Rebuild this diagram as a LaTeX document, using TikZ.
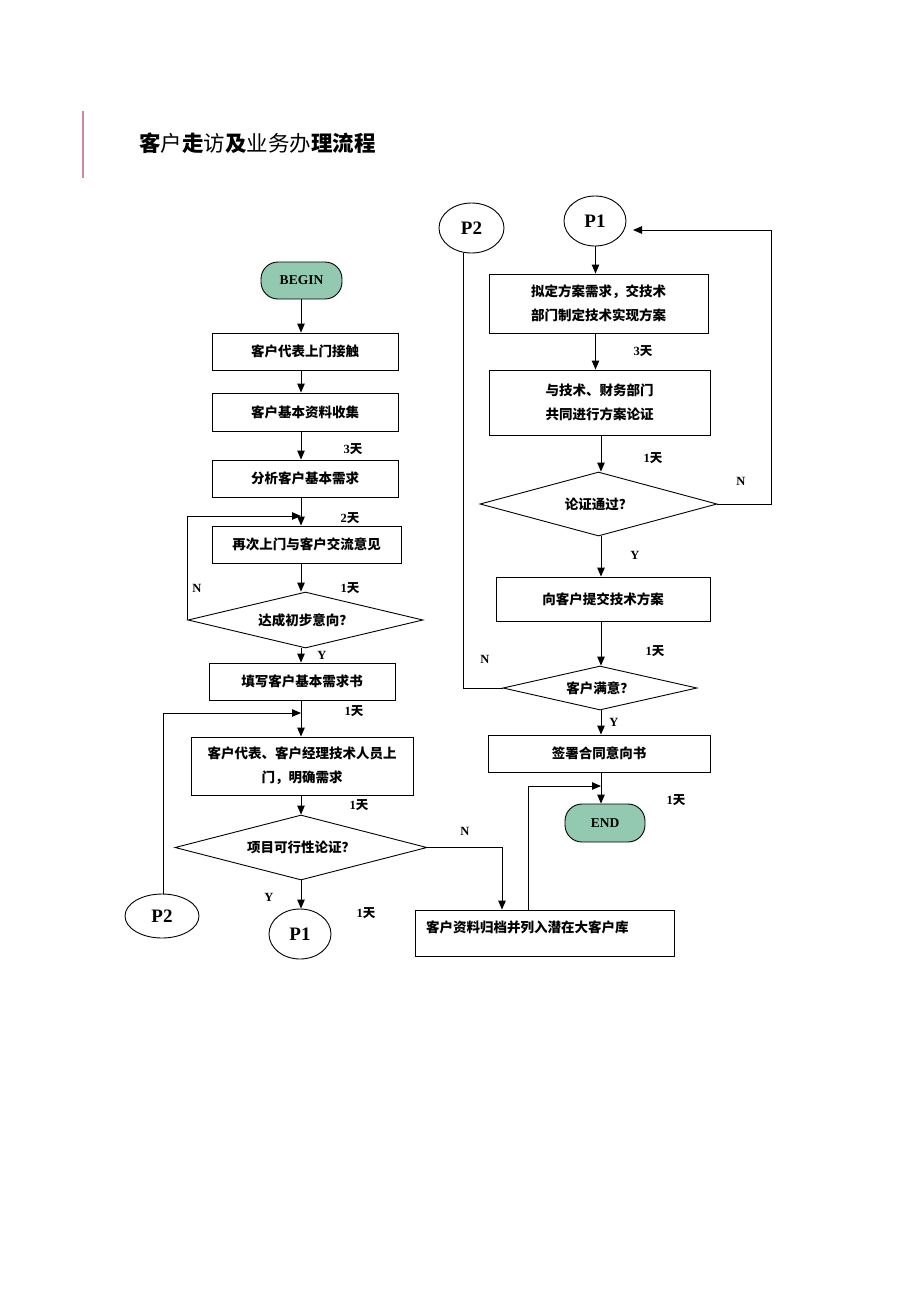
\documentclass[tikz,border=0pt]{standalone}
\usepackage{fontspec}
\newfontfamily\cjk{Noto Sans CJK SC}
\newfontfamily\tms{Liberation Serif}
\usetikzlibrary{shapes.geometric,arrows.meta}
\definecolor{tgreen}{HTML}{92C9B0}
\definecolor{tpink}{HTML}{C98AA5}
\newcommand\dl[1]{{\tms\bfseries #1}{\cjk\bfseries 天}}
\begin{document}
\begin{tikzpicture}[x=1pt,y=-1pt,
 box/.style={draw, line width=0.9pt, inner sep=0pt, font=\cjk\bfseries\fontsize{13.5}{24}\selectfont, align=center},
 term/.style={draw, line width=0.9pt, fill=tgreen, rounded corners=17pt, inner sep=0pt, font=\tms\bfseries\fontsize{13.5}{15}\selectfont},
 dec/.style={diamond, draw, line width=0.9pt, inner sep=0pt, font=\cjk\bfseries\fontsize{13.5}{16}\selectfont},
 conn/.style={ellipse, draw, line width=0.9pt, inner sep=0pt, font=\tms\bfseries\fontsize{19}{22}\selectfont},
 arr/.style={-{Triangle[length=9pt,width=7.5pt]}, line width=0.9pt},
 ln/.style={line width=0.9pt},
 lab/.style={font=\tms\bfseries\fontsize{12.5}{14}\selectfont, inner sep=0pt},
 ]
\useasboundingbox (0,0) rectangle (920,1302);
% title
\draw[tpink, line width=1.3pt] (83,111) -- (83,178);
\node[anchor=west, inner sep=0pt, font=\cjk\fontsize{21.5}{24}\selectfont] (title) at (139,143) {{\bfseries 客}户{\bfseries 走}访{\bfseries 及}业务办{\bfseries 理流程}};

% left column
\node[term, minimum width=81, minimum height=37] (begin) at (301.5,280.5) {BEGIN};
\node[box, minimum width=186, minimum height=37] (b1) at (305,351.5) {客户代表上门接触};
\node[box, minimum width=186, minimum height=38] (b2) at (305,412) {客户基本资料收集};
\node[box, minimum width=186, minimum height=37] (b3) at (305,478.5) {分析客户基本需求};
\node[box, minimum width=189, minimum height=37] (b4) at (306.5,544.5) {再次上门与客户交流意见};
\node[dec, aspect=4.2, minimum width=235, minimum height=56] (d1) at (305.5,620) {达成初步意向？};
\node[box, minimum width=186, minimum height=37] (b5) at (302,681.5) {填写客户基本需求书};
\node[box, minimum width=222, minimum height=58] (b6) at (302,766) {客户代表、客户经理技术人员上\\门，明确需求};
\node[dec, aspect=3.88, minimum width=252, minimum height=65] (d2) at (301,847.5) {项目可行性论证？};
\node[conn, minimum width=62, minimum height=50] (p1l) at (300,934) {P1};
\node[conn, minimum width=74, minimum height=44] (p2l) at (162,916) {P2};
\node[box, minimum width=259, minimum height=46] (b7) at (544.5,933) {};
\node[anchor=west, inner sep=0pt, font=\cjk\bfseries\fontsize{13.5}{16}\selectfont] (b7t) at (426,927) {客户资料归档并列入潜在大客户库};

% right column
\node[conn, minimum width=65, minimum height=50] (p2r) at (471.5,228) {P2};
\node[conn, minimum width=62, minimum height=50] (p1r) at (595,221) {P1};
\node[box, minimum width=219, minimum height=59] (b8) at (598.5,303.5) {拟定方案需求，交技术\\部门制定技术实现方案};
\node[box, minimum width=221, minimum height=65] (b9) at (599.5,402.5) {与技术、财务部门\\共同进行方案论证};
\node[dec, aspect=3.7, minimum width=237, minimum height=64] (d3) at (598.5,504) {论证通过？};
\node[box, minimum width=214, minimum height=44] (b10) at (603,599) {向客户提交技术方案};
\node[dec, aspect=4.4, minimum width=194, minimum height=44] (d4) at (600,688) {客户满意？};
\node[box, minimum width=222, minimum height=37] (b11) at (599,753.5) {签署合同意向书};
\node[term, minimum width=80, minimum height=38] (end) at (605,823) {END};

% labels
\node[lab] (t3a) at (353,449) {\dl{3}};
\node[lab] (t2) at (350,518) {\dl{2}};
\node[lab] (t1a) at (350,588) {\dl{1}};
\node[lab] (n1) at (197,588) {N};
\node[lab] (y1) at (322,655) {Y};
\node[lab] (t1b) at (354,711) {\dl{1}};
\node[lab] (t1c) at (359,805) {\dl{1}};
\node[lab] (y2) at (269,897) {Y};
\node[lab] (t1d) at (366,913) {\dl{1}};
\node[lab] (n2) at (465,831) {N};
\node[lab] (t3b) at (643,351) {\dl{3}};
\node[lab] (t1e) at (653,458) {\dl{1}};
\node[lab] (n3) at (741,481) {N};
\node[lab] (y3) at (635,555) {Y};
\node[lab] (t1f) at (655,651) {\dl{1}};
\node[lab] (n4) at (485,659) {N};
\node[lab] (y4) at (614,722) {Y};
\node[lab] (t1g) at (676,800) {\dl{1}};

% left connectors
\coordinate (L) at (301,0);
\draw[arr] (begin.south -| L) -- (b1.north -| L);
\draw[arr] (b1.south -| L) -- (b2.north -| L);
\draw[arr] (b2.south -| L) -- (b3.north -| L);
\draw[arr] (b3.south -| L) -- (b4.north -| L);
\draw[arr] (b4.south -| L) -- (d1.north -| L);
\draw[arr] (d1.south -| L) -- (b5.north -| L);
\draw[arr] (b5.south -| L) -- (b6.north -| L);
\draw[arr] (b6.south -| L) -- (d2.north -| L);
\draw[arr] (d2.south -| L) -- (p1l.north -| L);
\coordinate (j1) at (301,516);
\draw[arr] (d1.west) |- (j1);
\coordinate (j2) at (301,713);
\draw[arr] ([xshift=1]p2l.north) |- (j2);
\draw[arr] (d2.east) -| ([xshift=-42.5]b7.north);
\coordinate (j3) at (601,786);
\draw[arr] ([xshift=-16.5]b7.north) |- (j3);

% right connectors
\coordinate (R) at (601,0);
\coordinate (R0) at (595.5,0);
\draw[arr] (p1r.south -| R0) -- (b8.north -| R0);
\draw[arr] (b8.south -| R0) -- (b9.north -| R0);
\draw[arr] (b9.south -| R) -- (d3.north -| R);
\draw[arr] (d3.south -| R) -- (b10.north -| R);
\draw[arr] (b10.south -| R) -- (d4.north -| R);
\draw[arr] (d4.south -| R) -- (b11.north -| R);
\draw[arr] (b11.south -| R) -- (end.north -| R);
\draw[ln] ([xshift=-8]p2r.south) |- (d4.west);
\coordinate (r1) at (771,230);
\coordinate (p1in) at (633,230);
\draw[arr] (d3.east) -| (r1) -- (p1in);
\end{tikzpicture}
\end{document}
